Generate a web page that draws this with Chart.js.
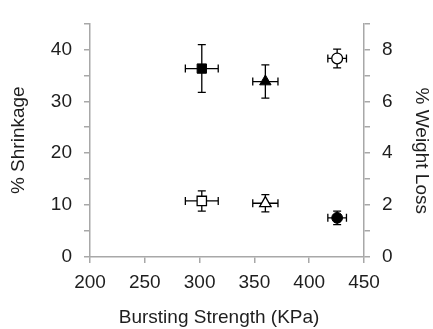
<!DOCTYPE html>
<html>
<head>
<meta charset="utf-8">
<script src="https://cdn.jsdelivr.net/npm/chart.js@4"></script>
<style>
  html, body { margin: 0; padding: 0; background: #fff; }
  #wrap { width: 433px; height: 329px; }
</style>
</head>
<body>
<div id="wrap"><canvas id="scatterChart"></canvas></div>
<script>
// values (square, triangle, circle)
const markers = ['rect', 'triangle', 'circle'];
const burstStrength = [302, 360, 425.5];
const burstErr = [15, 11.5, 8.5];
const shrinkage = [36.3, 33.8, 7.55];
const shrinkageErr = [4.6, 3.2, 1.3];
const weightLoss = [2.16, 2.07, 7.65];
const weightLossErr = [0.39, 0.33, 0.36];
const markerSize = [6.6, 6.6, 5.4];

const axisGrey = '#a8a8a8';
const textCol = '#1e1e1e';
const font = { family: 'Liberation Sans, Arial, sans-serif', size: 19 };

function points(ys, yErr) {
    return burstStrength.map(function (x, i) {
        return { x: x, y: ys[i], xErr: burstErr[i], yErr: yErr[i] };
    });
}

// draws x and y error bars through the chart scales
const errorBars = {
    id: 'errorBars',
    beforeDatasetsDraw: function (chart) {
        const ctx = chart.ctx;
        ctx.save();
        ctx.strokeStyle = '#000';
        ctx.lineWidth = 1.3;
        const cap = 4;
        chart.data.datasets.forEach(function (ds, di) {
            const meta = chart.getDatasetMeta(di);
            const xs = meta.xScale, ys = meta.yScale;
            ds.data.forEach(function (p) {
                const px = xs.getPixelForValue(p.x);
                const py = ys.getPixelForValue(p.y);
                const x0 = xs.getPixelForValue(p.x - p.xErr);
                const x1 = xs.getPixelForValue(p.x + p.xErr);
                const y0 = ys.getPixelForValue(p.y - p.yErr);
                const y1 = ys.getPixelForValue(p.y + p.yErr);
                ctx.beginPath();
                ctx.moveTo(x0, py); ctx.lineTo(x1, py);
                ctx.moveTo(x0, py - cap); ctx.lineTo(x0, py + cap);
                ctx.moveTo(x1, py - cap); ctx.lineTo(x1, py + cap);
                ctx.moveTo(px, y0); ctx.lineTo(px, y1);
                ctx.moveTo(px - cap, y0); ctx.lineTo(px + cap, y0);
                ctx.moveTo(px - cap, y1); ctx.lineTo(px + cap, y1);
                ctx.stroke();
            });
        });
        ctx.restore();
    }
};

function axisLook() {
    return {
        grid: { display: true, drawOnChartArea: false, drawTicks: true, tickLength: 6, color: axisGrey, lineWidth: 1.5 },
        border: { display: true, color: axisGrey, width: 1.5 }
    };
}

const ctx = document.getElementById('scatterChart').getContext('2d');
new Chart(ctx, {
    type: 'scatter',
    data: {
        datasets: [
            {
                label: '% Shrinkage',
                data: points(shrinkage, shrinkageErr),
                yAxisID: 'y',
                pointStyle: markers,
                pointRadius: markerSize,
                pointBackgroundColor: '#000',
                pointBorderColor: '#000',
                pointBorderWidth: 1
            },
            {
                label: '% Weight Loss',
                data: points(weightLoss, weightLossErr),
                yAxisID: 'y2',
                pointStyle: markers,
                pointRadius: markerSize,
                pointBackgroundColor: '#fff',
                pointBorderColor: '#000',
                pointBorderWidth: 1.3
            }
        ]
    },
    options: {
        responsive: true,
        maintainAspectRatio: false,
        animation: false,
        layout: { padding: { top: 15, left: 0, right: 0, bottom: 0 } },
        plugins: {
            legend: { display: false },
            tooltip: { enabled: false }
        },
        scales: {
            x: Object.assign(axisLook(), {
                type: 'linear',
                position: 'bottom',
                min: 200,
                max: 450,
                ticks: { stepSize: 50, color: textCol, font: font, padding: 8, maxRotation: 0 },
                title: { display: true, text: 'Bursting Strength (KPa)   ', color: textCol, font: font, padding: { top: -4, bottom: 0 } },
                afterFit: function (s) { s.height = 72; }
            }),
            y: Object.assign(axisLook(), {
                type: 'linear',
                position: 'left',
                min: 0,
                max: 45,
                ticks: {
                    stepSize: 5, color: textCol, font: font, padding: 12,
                    callback: function (v) { return v % 10 === 0 ? v : ''; }
                },
                title: { display: true, text: '% Shrinkage', color: textCol, font: font, padding: { top: 7, bottom: 0 } },
                afterFit: function (s) { s.width = 90; }
            }),
            y2: Object.assign(axisLook(), {
                type: 'linear',
                position: 'right',
                min: 0,
                max: 9,
                ticks: {
                    stepSize: 1, color: textCol, font: font, padding: 12,
                    callback: function (v) { return v % 2 === 0 ? v : ''; }
                },
                title: { display: true, text: '    % Weight Loss', color: textCol, font: font, padding: { top: 0, bottom: 0 } },
                afterFit: function (s) { s.width = 69; }
            })
        }
    },
    plugins: [errorBars]
});
</script>
</body>
</html>
